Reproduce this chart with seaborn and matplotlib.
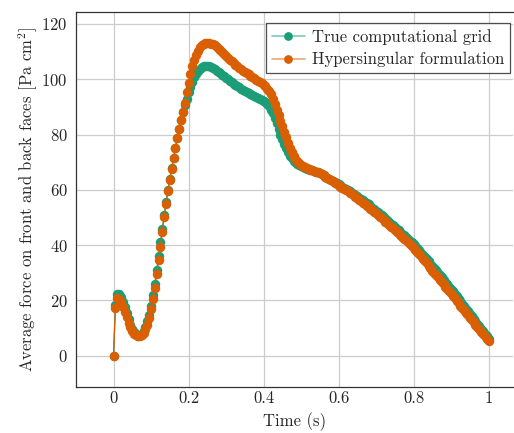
import numpy as np
import pandas as pd
import matplotlib
matplotlib.use("Agg")
import matplotlib.pyplot as plt
import seaborn as sns
from matplotlib.colors import to_rgba

# time samples (s), dt = 0.005
time_s = np.linspace(0.0, 1.0, 201)

# True computational grid
force_true = [
    0.0, 18.4, 22.5, 22.4, 21.4, 19.5, 17.5, 15.3, 13.2, 11.3,
    9.7, 8.5, 7.7, 7.3, 7.4, 8.0, 9.0, 10.5, 12.4, 14.9,
    18.1, 21.8, 26.0, 30.9, 35.9, 41.0, 46.0, 50.9, 55.5, 59.9,
    64.0, 67.9, 71.6, 75.3, 78.8, 82.1, 85.2, 88.0, 90.6, 93.0,
    95.2, 97.3, 99.1, 100.7, 102.0, 103.0, 103.8, 104.3, 104.6, 104.8,
    104.8, 104.7, 104.4, 104.0, 103.6, 103.1, 102.6, 102.1, 101.6, 101.0,
    100.5, 99.9, 99.4, 98.9, 98.4, 97.9, 97.4, 97.0, 96.6, 96.2,
    95.8, 95.4, 95.0, 94.7, 94.4, 94.0, 93.7, 93.3, 93.0, 92.6,
    92.2, 91.7, 91.1, 90.2, 89.0, 87.6, 86.0, 84.0, 82.0, 80.0,
    78.2, 76.5, 75.0, 73.6, 72.4, 71.4, 70.6, 70.0, 69.5, 69.0,
    68.6, 68.3, 68.0, 67.7, 67.5, 67.3, 67.0, 66.8, 66.5, 66.3,
    66.0, 65.6, 65.2, 64.8, 64.4, 64.0, 63.6, 63.2, 62.8, 62.4,
    62.0, 61.6, 61.2, 60.8, 60.4, 59.9, 59.5, 59.0, 58.6, 58.1,
    57.7, 57.2, 56.7, 56.2, 55.7, 55.2, 54.7, 54.1, 53.6, 53.1,
    52.5, 51.9, 51.4, 50.8, 50.2, 49.6, 49.0, 48.4, 47.8, 47.2,
    46.6, 46.0, 45.4, 44.8, 44.2, 43.6, 42.9, 42.3, 41.6, 41.0,
    40.3, 39.6, 38.8, 38.1, 37.3, 36.5, 35.7, 34.9, 34.1, 33.3,
    32.5, 31.7, 30.9, 30.0, 29.2, 28.4, 27.5, 26.7, 25.9, 25.0,
    24.2, 23.3, 22.4, 21.5, 20.6, 19.7, 18.8, 17.9, 17.0, 16.1,
    15.2, 14.3, 13.4, 12.5, 11.6, 10.7, 9.8, 8.9, 8.0, 7.0,
    6.0,
]

# Hypersingular formulation
force_hyper = [
    0.0, 17.3, 20.8, 20.5, 19.3, 17.6, 15.8, 13.9, 12.0, 10.4,
    9.0, 8.0, 7.4, 7.1, 7.2, 7.6, 8.4, 9.6, 11.3, 13.6,
    16.8, 20.4, 24.5, 29.4, 34.5, 39.5, 44.8, 50.0, 54.8, 59.4,
    63.6, 67.6, 71.4, 75.0, 78.6, 82.0, 85.2, 88.3, 91.5, 95.3,
    98.8, 101.9, 104.6, 106.9, 108.8, 110.3, 111.5, 112.3, 112.8, 113.1,
    113.2, 113.1, 112.9, 112.6, 112.2, 111.7, 111.1, 110.5, 109.9, 109.2,
    108.5, 107.8, 107.1, 106.5, 105.9, 105.3, 104.7, 104.1, 103.6, 103.1,
    102.7, 102.2, 101.8, 101.3, 100.8, 100.3, 99.8, 99.4, 98.9, 98.5,
    98.0, 97.4, 96.6, 95.7, 94.5, 92.9, 91.0, 89.0, 87.0, 85.0,
    83.0, 81.0, 79.0, 77.0, 75.2, 73.6, 72.3, 71.2, 70.3, 69.6,
    69.0, 68.5, 68.1, 67.8, 67.5, 67.3, 67.0, 66.8, 66.5, 66.3,
    66.0, 65.6, 65.2, 64.8, 64.4, 64.0, 63.5, 63.1, 62.6, 62.1,
    61.6, 61.2, 60.7, 60.3, 59.8, 59.4, 58.9, 58.5, 58.0, 57.5,
    57.0, 56.5, 56.0, 55.4, 54.9, 54.3, 53.8, 53.2, 52.7, 52.1,
    51.5, 50.9, 50.3, 49.7, 49.1, 48.5, 47.9, 47.3, 46.7, 46.1,
    45.5, 44.9, 44.3, 43.6, 43.0, 42.3, 41.7, 41.0, 40.4, 39.7,
    39.0, 38.3, 37.5, 36.7, 35.9, 35.1, 34.3, 33.5, 32.6, 31.7,
    30.8, 30.0, 29.2, 28.3, 27.5, 26.7, 25.8, 25.0, 24.2, 23.4,
    22.6, 21.7, 20.8, 19.9, 19.0, 18.1, 17.2, 16.4, 15.5, 14.7,
    13.8, 13.0, 12.1, 11.3, 10.4, 9.6, 8.7, 7.9, 7.0, 6.1,
    5.3,
]

series_names = ["True computational grid", "Hypersingular formulation"]
series_colors = ["#1b9e77", "#d95f02"]

xticks = [0, 0.2, 0.4, 0.6, 0.8, 1]
xtick_labels = ["0", "0.2", "0.4", "0.6", "0.8", "1"]
yticks = [0, 20, 40, 60, 80, 100, 120]

sns.set_style("white")
plt.rcParams["font.family"] = ["cmr10", "DejaVu Serif"]
plt.rcParams["mathtext.fontset"] = "cm"
plt.rcParams["axes.formatter.use_mathtext"] = True

fig = plt.figure(figsize=(5.14, 4.33), dpi=100)
ax = fig.add_axes([76 / 514, 46 / 433, 437 / 514, 375 / 433])

for name, vals, col in zip(series_names, [force_true, force_hyper], series_colors):
    df = pd.DataFrame({"t": time_s, "f": vals})
    sns.lineplot(data=df, x="t", y="f", ax=ax, color=col, label=name,
                 marker="o", markersize=6.8, markeredgewidth=0,
                 linewidth=0.9, sort=False, errorbar=None)

ax.set_xlim(-0.1, 1.065)
ax.set_ylim(-11.3, 124.3)
ax.set_xticks(xticks)
ax.set_xticklabels(xtick_labels)
ax.set_yticks(yticks)
ax.tick_params(axis="both", labelsize=12, direction="in", length=3,
               color="#555555")
ax.tick_params(axis="x", pad=3)
ax.tick_params(axis="y", pad=6)
ax.grid(True, color="#cccccc", linewidth=0.9)
ax.set_axisbelow(True)
for side in ["left", "bottom", "top"]:
    ax.spines[side].set_color("#333333")
    ax.spines[side].set_linewidth(0.9)
ax.spines["right"].set_visible(False)

ax.set_xlabel("Time (s)", fontsize=12, labelpad=4)
ax.set_ylabel("Average force on front and back faces [Pa cm$^2$]", fontsize=12,
              labelpad=1)

leg = ax.legend(loc="upper right", bbox_to_anchor=(510 / 514, 410 / 433),
                bbox_transform=fig.transFigure, fontsize=12, frameon=True,
                fancybox=False, borderaxespad=0, handlelength=2.0,
                handletextpad=0.4, borderpad=0.35, labelspacing=0.45)
leg.get_frame().set_edgecolor("#222222")
leg.get_frame().set_linewidth(0.9)
for h, col in zip(leg.get_lines(), series_colors):
    h.set_color(to_rgba(col, 0.55))
    h.set_markerfacecolor(col)
    h.set_markersize(6.3)
    h.set_linewidth(1.2)

fig.savefig("out.png", dpi=100)
